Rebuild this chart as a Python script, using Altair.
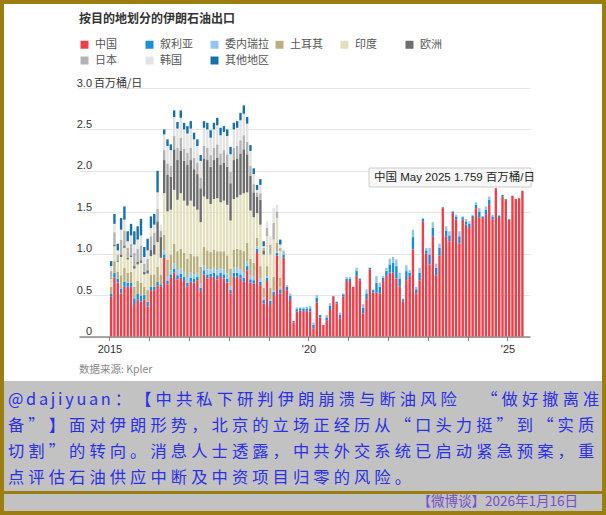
import altair as alt
import pandas as pd

title_text = "按目的地划分的伊朗石油出口"
source_text = "数据来源: Kpler"
unit_text = "百万桶/日"

categories = ["中国", "叙利亚", "委内瑞拉", "土耳其", "印度", "欧洲", "日本", "韩国", "其他地区"]
colors = ["#ee3e4a", "#1a8fd8", "#8fc8ec", "#b8b07c", "#e3dfbd", "#6d6d6d", "#b3b3b3", "#e3e3e3", "#1671a8"]

start_month = "2015-01"
n_months = 125

china = [
    .48, .71, .65, .52, .60, .60, .60, .38, .45, .42, .45, .36, .56, .56, .62, .60,
    .95, .63, .71, .77, .69, .71, .67, .60, .66, .65, .68, .55, .75, .70, .72, .72, .69, .73, .70, .65, .52, .72, .72, .70, .66, .80,
    .65, .64, 1.02, .62, .40, .67, .38, .50, .98, .52, .95, .56, .44,
    .17, .30, .31, .31, .31, .30,
    .10, .41, .23, .14, .19, .32, .48, .40, .22, .48,
    .67, .67, .60, .73, .68, .28, .45, .81, .53, .53,
    .52, .67, .73, .77, .77, .70, .60, .42, .68, .73,
    1.05, .52, .68, 1.39, 1.00, .87, 1.21, .74, .98, 1.55,
    1.21, 1.15, 1.49, 1.41, 1.12, 1.41, 1.35, 1.31, 1.43, 1.55,
    1.44, 1.43, 1.47, 1.59, 1.41, 1.78, 1.43, 1.69, 1.65, 1.41,
    1.70, 1.66, 1.67, 1.759,
]
syria = [
    .04, .06, .05, .06, .06, .05, .05, .08, .07, .07, .05, .06, .04, .04, .04, .03,
    .04, .04, .04, .05, .05, .05, .05, .05, .05, .05, .04, .04, .05, .05, .04, .05, .05, .04, .05, .05, .04, .05, .05, .05, .05, .05,
    .04, .04, .04, .04, .04, .04, .05, .04, .03, .05, .04, .04, .05,
    .02, .03, .03, .03, .03, .04,
    .04, .06, .03, 0, .04, .05, .01, .02, .04, .03,
    .03, .03, 0, .06, .02, .07, .07, .02, .03, .12,
    .08, .04, .06, .10, .12, .15, .10, .03, .11, .04,
    .15, .05, .09, .03, .04, .12, .10, .09, .09, .01,
    .07, .07, .02, .04, .09, .03, .04, .05, .03, .04,
    .07, .02, .06, .06, .04, .01, .03, .02, .01, .01,
    0, 0, 0, 0,
]
venezuela = [
    0, 0, 0, 0, 0, 0, 0, 0, 0, 0, 0, 0, 0, 0, 0, 0,
    .05, .05, .05, .06, .06, .06, .06, .06, .06, .05, .05, .05, .06, .06, .05, .06, .06, .05, .06, .06, .05, .06, .06, .06, .06, .06,
    .05, .04, .03, .04, .03, .02, .02, .02, .02, .02, .02, .02, .03,
    0, .02, .01, .01, .02, .03,
    .03, .03, 0, 0, .03, .03, 0, 0, .03, .01,
    .02, .02, 0, .04, 0, .04, .05, 0, .01, .08,
    .05, .02, .04, .07, .07, .08, .07, .01, .07, .03,
    .09, .03, .06, .01, .03, .08, .07, .05, .05, 0,
    .05, .05, 0, .02, .06, .01, .03, .03, .01, .03,
    .04, 0, .04, .04, .02, 0, .01, 0, 0, 0,
    0, 0, 0, 0,
]
turkey = [
    .08, .14, .08, .16, .17, .12, .13, .14, .15, .16, .10, .14, .15, .15, .18, .12,
    .19, .21, .19, .24, .23, .24, .23, .23, .23, .22, .20, .20, .22, .23, .21, .22, .23, .21, .22, .22, .21, .22, .23, .24, .26, .22,
    .20, .17, .10, .15, .12, .12, .14, .16, .10, .12, .02, 0, 0,
] + [0.0] * 70
india = [
    .10, .18, .12, .22, .24, .16, .18, .22, .20, .24, .15, .20, .22, .24, .30, .20,
    .50, .58, .54, .65, .62, .67, .63, .64, .64, .60, .56, .54, .61, .62, .58, .61, .64, .59, .61, .61, .58, .61, .62, .66, .70, .61,
    .58, .55, .30, .50, .40, .36, .40, .45, .30, .32, .02, 0, 0,
] + [0.0] * 70
europe = [
    .01, .02, .01, .03, .03, .02, .02, .03, .03, .03, .03, .04, .08, .12, .25, .25,
    .40, .44, .40, .49, .48, .51, .48, .49, .49, .45, .43, .41, .46, .47, .45, .47, .49, .45, .46, .46, .45, .47, .47, .50, .53, .46,
    .42, .30, .20, .30, .05, 0, 0, 0, 0, 0, 0, 0, 0,
] + [0.0] * 70
japan = [
    .08, .15, .08, .18, .18, .12, .14, .16, .16, .18, .10, .14, .16, .14, .15, .08,
    .12, .14, .13, .16, .15, .16, .15, .15, .15, .14, .14, .13, .15, .15, .14, .15, .16, .14, .15, .15, .14, .15, .15, .16, .17, .15,
    .12, .10, .05, .08, .03, .10, .12, .20, .08, .04, 0, 0, 0,
] + [0.0] * 70
korea = [
    .06, .10, .05, .12, .13, .08, .10, .10, .11, .12, .08, .10, .10, .10, .20, .07,
    .19, .21, .19, .23, .23, .24, .23, .23, .23, .22, .20, .20, .22, .22, .21, .22, .23, .22, .22, .22, .21, .22, .22, .24, .26, .22,
    .18, .12, .03, .10, .02, .08, .10, .18, .08, .04, 0, 0, 0,
] + [0.0] * 70
other = [
    .06, .12, .08, .14, .16, .12, .14, .16, .16, .20, .12, .14, .14, .13, .26, 0,
    .06, .08, .07, .08, .08, .09, .08, .09, .09, .08, .08, .07, .08, .08, .09, .08, .09, .09, .07, .08, .09, .08, .08, .09, .10, .08,
    .07, .07, .06, .07, .06, 0, 0, 0, 0, .06, 0, 0, 0,
] + [0.0] * 70

series = [china, syria, venezuela, turkey, india, europe, japan, korea, other]

y_ticks = [0, 0.5, 1.0, 1.5, 2.0, 2.5, 3.0]
x_ticks = list(range(2015, 2026))
x_labels = {2015: "2015", 2020: "'20", 2025: "'25"}

caption_lines = [
    "@dajiyuan：【中共私下研判伊朗崩溃与断油风险　“做好撤离准",
    "备”】面对伊朗形势，北京的立场正经历从“口头力挺”到“实质",
    "切割”的转向。消息人士透露，中共外交系统已启动紧急预案，重",
    "点评估石油供应中断及中资项目归零的风险。",
]
caption_date = "【微博谈】2026年1月16日"

# ---------------------------------------------------------------- data table
months = pd.period_range(start_month, periods=n_months, freq="M")
rows = []
for k, (cat, vals) in enumerate(zip(categories, series)):
    assert len(vals) == n_months, (cat, len(vals))
    for m, v in zip(months, vals):
        rows.append({"t": m.year + (m.month - 0.5) / 12, "cat": cat, "ord": k, "v": v})
df = pd.DataFrame(rows)

tooltip_text = f"{categories[0]} {months[-1].strftime('%b %Y')} {china[-1]:.3f} {unit_text}"


def spaced(line):
    """Imitate the letter-spacing of the caption with narrow space characters."""
    out = line[0]
    for a, b in zip(line, line[1:]):
        out += ("\u2006" if (a.isascii() and b.isascii()) else "\u2005") + b
    return out


# ---------------------------------------------------------------- layout
W, H = 451, 248.5
PL, PT, PR, PB = 79, 88, 76, 178.5
FONT = "Liberation Sans, Noto Sans CJK SC, sans-serif"
CJK = "Noto Sans CJK SC, DejaVu Sans, sans-serif"
GOLD = "#9c7e10"
GREY = "#c2c2c2"

x_expr = " : ".join(f"datum.value == {k} ? \"{v}\"" for k, v in x_labels.items()) + " : ''"

one = pd.DataFrame({"a": [0]})


def rect(x, x2, y, y2, color):
    return alt.Chart(one).mark_rect(color=color, strokeWidth=0).encode(
        x=alt.value(x), x2=alt.value(x2), y=alt.value(y), y2=alt.value(y2)
    )


def label(txt, x, y, **kw):
    return alt.Chart(pd.DataFrame({"s": [txt]})).mark_text(**kw).encode(
        x=alt.value(x), y=alt.value(y), text="s:N"
    )


frame = [
    rect(-PL, W + PR, -PT, -PT + 4, GOLD),
    rect(-PL, -PL + 4, -PT, H + PB, GOLD),
    rect(W + PR - 4, W + PR, -PT, H + PB, GOLD),
    rect(-PL, W + PR, 381 - PT, H + PB, GOLD),
    rect(-PL + 4, W + PR - 4, 381 - PT, 491 - PT, GREY),
    rect(-PL + 4, W + PR - 4, 494 - PT, 511 - PT, GREY),
]

bars = alt.Chart(df).mark_bar(width=2.4).encode(
    x=alt.X(
        "t:Q",
        scale=alt.Scale(domain=[2014.36, 2025.44], nice=False, zero=False),
        axis=alt.Axis(
            values=x_ticks, labelExpr=x_expr, tickSize=4, tickColor="#888888",
            domainColor="#555555", labelColor="#333333", labelFontSize=11,
            labelPadding=3, grid=False, title=None, labelFont=FONT,
        ),
    ),
    y=alt.Y(
        "v:Q",
        stack="zero",
        scale=alt.Scale(domain=[0, 3], nice=False),
        axis=alt.Axis(
            values=y_ticks, labelExpr="datum.value == 0 ? '0' : format(datum.value, '.1f')",
            labelAlign="right", labelBaseline="bottom", labelPadding=-12.5,
            ticks=False, tickSize=0, domain=False, gridColor="#e6e6e6",
            labelColor="#333333", labelFontSize=11, labelFont=FONT,
            title=unit_text, titleAngle=0, titleAlign="left", titleBaseline="bottom",
            titleX=14.5, titleY=0, titleFontWeight="normal", titleFontSize=11,
            titleColor="#333333", titleFont=CJK,
        ),
    ),
    color=alt.Color(
        "cat:N",
        scale=alt.Scale(domain=categories, range=colors),
        legend=alt.Legend(
            orient="none", legendX=0, legendY=-49, direction="horizontal",
            columns=6, gridAlign="all", symbolType="square", symbolSize=64,
            symbolStrokeWidth=0, labelFontSize=11, labelColor="#555555",
            labelFont=CJK, labelOffset=5, columnPadding=5, rowPadding=4, title=None,
        ),
    ),
    order=alt.Order("ord:Q", sort="ascending"),
)

texts = [
    label(title_text, 0, 19 - PT, align="left", baseline="middle", fontSize=12,
          fontWeight="bold", color="#333333", font=CJK),
    label(source_text, 0, 370 - PT, align="left", baseline="middle", fontSize=10.5,
          color="#888888", font=CJK),
    alt.Chart(one).mark_rect(fill="#f7f7f7", stroke="#cccccc", strokeWidth=1).encode(
        x=alt.value(369 - PL), x2=alt.value(531 - PL), y=alt.value(168 - PT), y2=alt.value(187 - PT)
    ),
    label(tooltip_text, 374 - PL, 178 - PT, align="left", baseline="middle", fontSize=11.5,
          color="#222222", font=FONT),
]

cap_y = [400, 426, 452, 478]
for line, yy in zip(caption_lines, cap_y):
    texts.append(label(spaced(line), 8 - PL, yy - PT, align="left", baseline="middle",
                       fontSize=16.3, color="#2a30e6", font=CJK))
texts.append(label(caption_date, 578 - PL, 502 - PT, align="right", baseline="middle",
                   fontSize=13.5, color="#7550c8", font=CJK))

chart = alt.layer(*frame, bars, *texts).properties(
    width=W, height=H,
    padding={"left": PL, "top": PT, "right": PR, "bottom": PB},
    autosize=alt.AutoSizeParams(type="none"),
    background="white",
).configure_view(stroke=None)

chart.save("out.html", embed_options={"renderer": "svg", "actions": False})
